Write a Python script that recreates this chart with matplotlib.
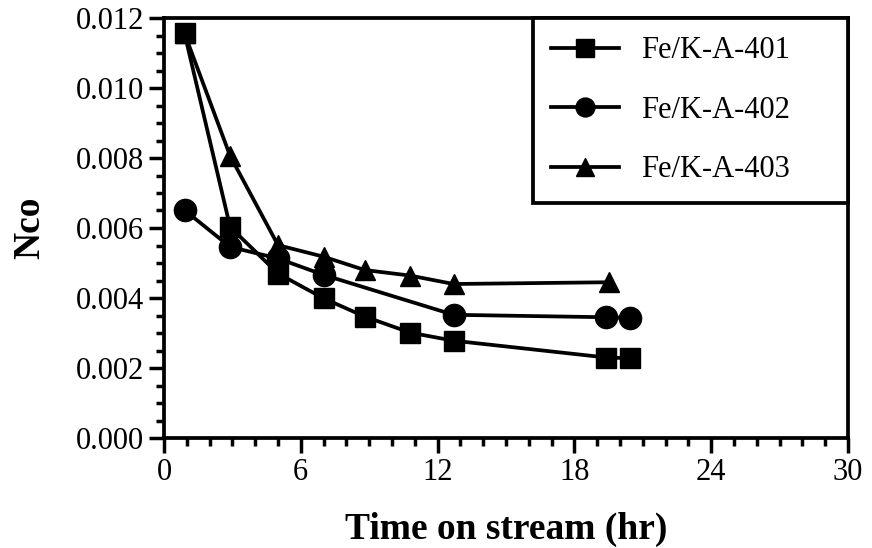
import matplotlib
matplotlib.use("Agg")
import matplotlib.pyplot as plt
from matplotlib.ticker import MultipleLocator, FormatStrFormatter

plt.rcParams['font.family'] = ['Liberation Serif', 'DejaVu Serif']

# Data (time on stream in hr, Nco)
t_401 = [0.9, 2.9, 5.0, 7.0, 8.8, 10.8, 12.7, 19.4, 20.45]
n_401 = [0.01156, 0.00603, 0.00470, 0.00399, 0.00347, 0.00301, 0.00278, 0.00230, 0.00228]

t_402 = [0.9, 2.9, 5.0, 7.0, 12.7, 19.4, 20.45]
n_402 = [0.00651, 0.00546, 0.00513, 0.00466, 0.00352, 0.00345, 0.00343]

t_403 = [0.9, 2.9, 5.0, 7.0, 8.8, 10.8, 12.7, 19.5]
n_403 = [0.01156, 0.00806, 0.00551, 0.00518, 0.00480, 0.00464, 0.00440, 0.00445]

labels = ["Fe/K-A-401", "Fe/K-A-402", "Fe/K-A-403"]
x_ticks = [0, 6, 12, 18, 24, 30]
y_ticks = [0.000, 0.002, 0.004, 0.006, 0.008, 0.010, 0.012]

fig = plt.figure(figsize=(8.72, 5.48), dpi=100)
ax = fig.add_axes([164/872, 110/548, 684/872, 420/548])

lw = 2.7
ax.plot(t_403, n_403, color='black', lw=lw, marker='^', ms=15, label=labels[2], zorder=3)
ax.plot(t_402, n_402, color='black', lw=lw, marker='o', ms=16, label=labels[1], zorder=4)
ax.plot(t_401, n_401, color='black', lw=lw, marker='s', ms=15, label=labels[0], zorder=5)

ax.set_xlim(0, 30)
ax.set_ylim(0, 0.012)
ax.set_xticks(x_ticks)
ax.set_yticks(y_ticks)
ax.xaxis.set_minor_locator(MultipleLocator(1))
ax.yaxis.set_minor_locator(MultipleLocator(0.0005))
ax.yaxis.set_major_formatter(FormatStrFormatter('%.3f'))

for s in ax.spines.values():
    s.set_linewidth(2.7)

ax.tick_params(axis='both', which='major', direction='out', length=10.5, width=2.5,
               labelsize=22, pad=4)
ax.tick_params(axis='both', which='minor', direction='out', length=5.5, width=2.5)

ax.set_xlabel("Time on stream (hr)", fontsize=27, fontweight='bold', labelpad=18)
ax.set_ylabel("Nco", fontsize=27, fontweight='bold', labelpad=20)

handles, labs = ax.get_legend_handles_labels()
order = [2, 1, 0]
leg = ax.legend([handles[i] for i in order], [labs[i] for i in order],
                loc='upper right', bbox_to_anchor=(1 - 315/684, 0, 315/684, 1),
                mode='expand', borderaxespad=0, fontsize=22, frameon=True,
                fancybox=False, edgecolor='black', framealpha=1,
                handlelength=2.2, handletextpad=0.75, labelspacing=1.0,
                borderpad=0.6, markerscale=0.85)
leg.get_frame().set_linewidth(2.7)

fig.savefig("out.png", dpi=100)
